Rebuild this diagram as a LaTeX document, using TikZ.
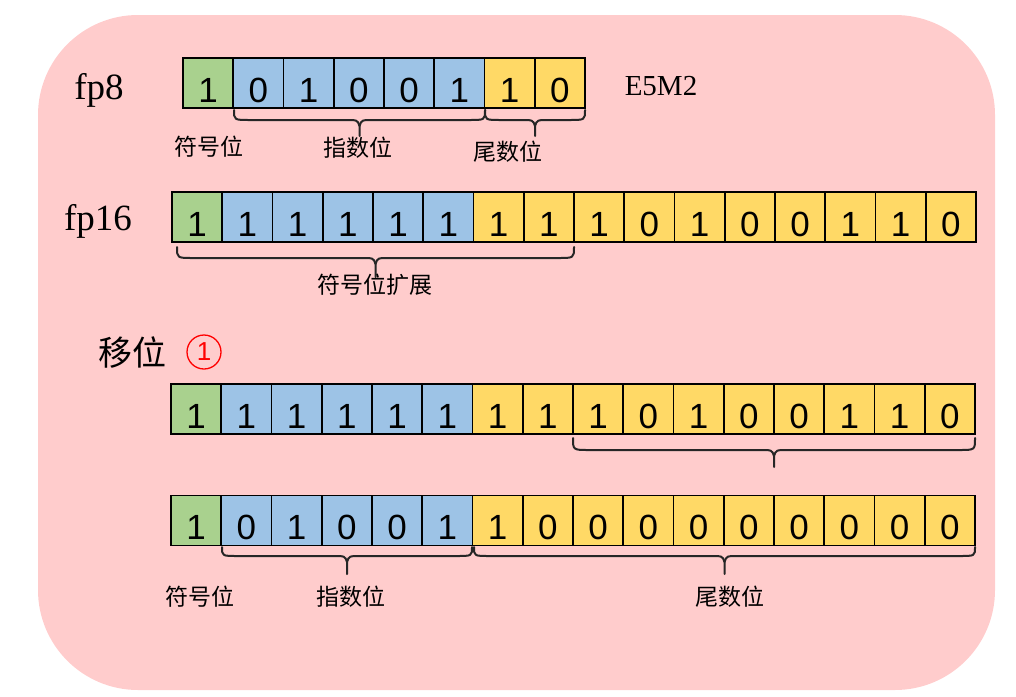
\documentclass[tikz,border=0pt]{standalone}
\usepackage{fontspec}
\setmainfont{Liberation Serif}
\newfontfamily\digitfont{Liberation Sans}
\newfontfamily\cjk{Noto Sans CJK SC}
\usetikzlibrary{calc}
\definecolor{cgreen}{HTML}{A9D18E}
\definecolor{cblue}{HTML}{9DC3E6}
\definecolor{cyellow}{HTML}{FFD966}
\definecolor{cpink}{HTML}{FFCCCC}
\tikzset{
  cell/.style={draw=black, line width=1.6pt, minimum width=50.25pt, minimum height=50pt, inner sep=0pt},
  digit/.style={font=\digitfont\fontsize{35}{35}\selectfont, inner sep=0pt},
  cjklabel/.style={font=\cjk\fontsize{23}{23}\selectfont, inner sep=0pt},
  bigtitle/.style={font=\fontsize{37}{37}\selectfont, inner sep=0pt},
  bracestyle/.style={draw=black!85, line width=2pt, line cap=round, line join=round}
}
\newcommand\mybrace[5]{% x1 x2 ytop ymid ytip
  \draw[bracestyle] (#1,#3) .. controls (#1,#4) .. ({#1+16},#4)
    -- ({(#1+#2)/2-14},#4) .. controls ({(#1+#2)/2-2},#4) .. ({(#1+#2)/2},{#4+6})
    -- ({(#1+#2)/2},#5);
  \draw[bracestyle] ({(#1+#2)/2},{#4+6}) .. controls ({(#1+#2)/2+2},#4) .. ({(#1+#2)/2+14},#4)
    -- ({#2-16},#4) .. controls (#2,#4) .. (#2,#3);
}
\newcommand\bitrow[5]{% name, x0, ycenter, first yellow index, values
  \foreach \v [count=\i] in {#5} {
    \pgfmathsetmacro\cx{#2+(\i-0.5)*50.25}
    \ifnum\i=1 \def\col{cgreen}\else\ifnum\i<#4 \def\col{cblue}\else\def\col{cyellow}\fi\fi
    \node[cell, fill=\col] (#1c\i) at (\cx,#3) {};
    \node[digit] (#1d\i) at ($(#1c\i.center)+(0,7)$) {\v};
  }
}
\begin{document}
\begin{tikzpicture}[x=1pt,y=-1pt]
\useasboundingbox (0,0) rectangle (1016,696);
\fill[cpink, rounded corners=100pt] (38,15) rectangle (995,690);

% fp8 row
\node[bigtitle] (fp8) at (99,90) {fp8};
\bitrow{a}{183}{83}{7}{1,0,1,0,0,1,1,0}
\node[font=\fontsize{29}{29}\selectfont, inner sep=0pt] (e5m2) at (661,86) {E5M2};
\mybrace{234}{485}{110}{120}{136}
\mybrace{485}{585}{110}{120}{136}
\node[cjklabel] (la1) at (209,147) {符号位};
\node[cjklabel] (la2) at (358,148) {指数位};
\node[cjklabel] (la3) at (508,152) {尾数位};

% fp16 row
\node[bigtitle] (fp16) at (98,221) {fp16};
\bitrow{b}{172}{217}{7}{1,1,1,1,1,1,1,1,1,0,1,0,0,1,1,0}
\mybrace{177}{574}{247}{258}{277}
\node[cjklabel] (lb1) at (375,285) {符号位扩展};

% shift
\node[font=\cjk\fontsize{34}{34}\selectfont, inner sep=0pt] (shift) at (132,353) {移位};
\node[circle, draw=red, line width=1.3pt, minimum size=34pt, inner sep=0pt,
      text=red, font=\digitfont\fontsize{26}{26}\selectfont] (one) at (204,352) {1};

% row 3
\bitrow{c}{171}{409}{7}{1,1,1,1,1,1,1,1,1,0,1,0,0,1,1,0}
\mybrace{573}{975}{438}{450}{467}

% row 4
\bitrow{d}{171}{520.5}{7}{1,0,1,0,0,1,1,0,0,0,0,0,0,0,0,0}
\mybrace{222}{472}{547}{556}{574}
\mybrace{474}{975}{547}{556}{574}
\node[cjklabel] (ld1) at (200,597) {符号位};
\node[cjklabel] (ld2) at (351,597) {指数位};
\node[cjklabel] (ld3) at (730,597) {尾数位};
\end{tikzpicture}
\end{document}
